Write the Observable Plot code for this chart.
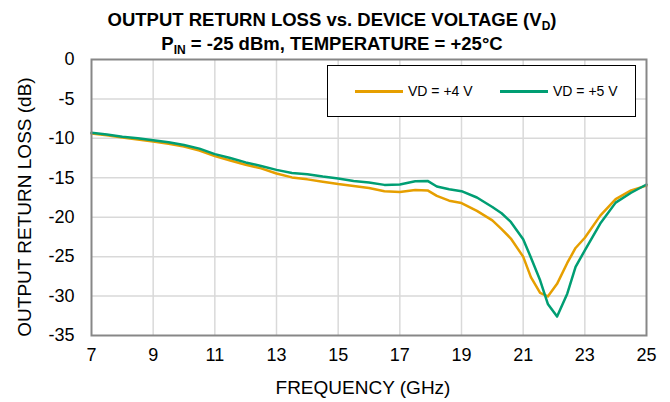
<!DOCTYPE html>
<html>
<head>
<meta charset="utf-8">
<script src="https://cdn.jsdelivr.net/npm/d3@7"></script>
<script src="https://cdn.jsdelivr.net/npm/@observablehq/plot@0.6"></script>
<style>
  body { margin: 0; background: #fff; font-family: "Liberation Sans", Arial, sans-serif; }
  #wrap { position: relative; width: 670px; height: 402px; overflow: hidden; background: #fff; }
  #chart { position: absolute; left: 0; top: 0; }
  .title { position: absolute; left: 0; width: 664px; text-align: center; font-weight: bold; font-size: 18.5px; line-height: 22px; color: #000; white-space: nowrap; }
  .sub { font-size: 12px; position: relative; top: 4px; }
  .axlabel { position: absolute; font-size: 19px; line-height: 22px; height: 22px; color: #000; white-space: nowrap; text-align: center; }
  #legend { position: absolute; left: 327px; top: 65px; width: 307px; height: 50px; border: 1px solid #000; background: #fff; }
  .lg-line { position: absolute; top: 24px; height: 3px; }
  .lg-text { position: absolute; top: 16px; font-size: 14px; line-height: 18px; color: #000; white-space: nowrap; }
</style>
</head>
<body>
<div id="wrap">
  <div id="chart"></div>
  <div class="title" style="top:9px">OUTPUT RETURN LOSS vs. DEVICE VOLTAGE (V<span class="sub">D</span>)</div>
  <div class="title" style="top:33px">P<span class="sub">IN</span> = -25 dBm, TEMPERATURE = +25°C</div>
  <div id="legend"></div>
  <div class="axlabel" id="xlab" style="left:213px; width:300px; top:377px">FREQUENCY (GHz)</div>
  <div class="axlabel" id="ylab" style="left:-125px; width:300px; top:196px; transform: rotate(-90deg); transform-origin: 150px 11px;">OUTPUT RETURN LOSS (dB)</div>
</div>
<script>
// ---- data ----
const freq = [7, 7.5, 8, 8.5, 9, 9.5, 10, 10.5, 11, 11.5, 12, 12.5, 13, 13.5, 14, 14.5, 15, 15.5, 16, 16.5, 17, 17.5, 17.9, 18.2, 18.6, 19, 19.5, 20, 20.3, 20.6, 21, 21.25, 21.55, 21.8, 22.1, 22.43, 22.7, 23, 23.5, 24, 24.5, 25];
const vd4 = [-9.4, -9.6, -9.9, -10.15, -10.4, -10.7, -11.05, -11.55, -12.25, -12.8, -13.35, -13.8, -14.45, -14.95, -15.2, -15.5, -15.8, -16.05, -16.3, -16.7, -16.8, -16.55, -16.6, -17.3, -17.9, -18.2, -19.2, -20.4, -21.5, -22.7, -25.0, -27.6, -29.6, -30.05, -28.45, -25.8, -23.9, -22.6, -19.8, -17.7, -16.6, -16.0];
const vd5 = [-9.3, -9.5, -9.8, -10.0, -10.25, -10.5, -10.85, -11.3, -12.0, -12.5, -13.05, -13.5, -14.0, -14.4, -14.55, -14.85, -15.1, -15.4, -15.6, -15.9, -15.85, -15.45, -15.4, -16.1, -16.45, -16.7, -17.5, -18.7, -19.5, -20.6, -22.8, -25.1, -28.0, -31.0, -32.6, -29.7, -26.3, -24.2, -20.8, -18.15, -16.9, -15.85];
const seriesNames = ["VD = +4 V", "VD = +5 V"];
const seriesColors = ["#E69F00", "#009E73"];
const xTicks = [7, 9, 11, 13, 15, 17, 19, 21, 23, 25];
const yTicks = [0, -5, -10, -15, -20, -25, -30, -35];

const rows = [];
freq.forEach((f, i) => {
  rows.push({f, v: vd4[i], s: seriesNames[0]});
  rows.push({f, v: vd5[i], s: seriesNames[1]});
});

const chart = Plot.plot({
  width: 670,
  height: 402,
  marginLeft: 91,
  marginRight: 24,
  marginTop: 59,
  marginBottom: 67,
  style: { fontFamily: "'Liberation Sans', Arial, sans-serif", fontSize: "18px", color: "#000", background: "#fff", overflow: "visible" },
  x: { domain: [7, 25] },
  y: { domain: [-35, 0] },
  color: { domain: seriesNames, range: seriesColors },
  marks: [
    Plot.gridX(xTicks.slice(1, -1), { stroke: "#d9d9d9", strokeOpacity: 1, strokeWidth: 1.5 }),
    Plot.gridY(yTicks.slice(1, -1), { stroke: "#d9d9d9", strokeOpacity: 1, strokeWidth: 1.5 }),
    Plot.line(rows, { x: "f", y: "v", z: "s", stroke: "s", strokeWidth: 2.5 }),
    Plot.frame({ stroke: "#878787", strokeWidth: 2 }),
    Plot.axisX({ ticks: xTicks, tickSize: 0, tickPadding: 13, label: null, tickFormat: d => String(d) }),
    Plot.axisY({ ticks: yTicks, tickSize: 0, tickPadding: 17, label: null, tickFormat: d => String(d) })
  ]
});
document.getElementById("chart").appendChild(chart);

// legend (HTML overlay)
const legend = document.getElementById("legend");
const lineX = [27, 172];
const textX = [80, 225];
seriesNames.forEach((name, i) => {
  const ln = document.createElement("div");
  ln.className = "lg-line";
  ln.style.left = lineX[i] + "px";
  ln.style.width = "48px";
  ln.style.background = seriesColors[i];
  legend.appendChild(ln);
  const tx = document.createElement("div");
  tx.className = "lg-text";
  tx.style.left = textX[i] + "px";
  tx.textContent = name;
  legend.appendChild(tx);
});
</script>
</body>
</html>
